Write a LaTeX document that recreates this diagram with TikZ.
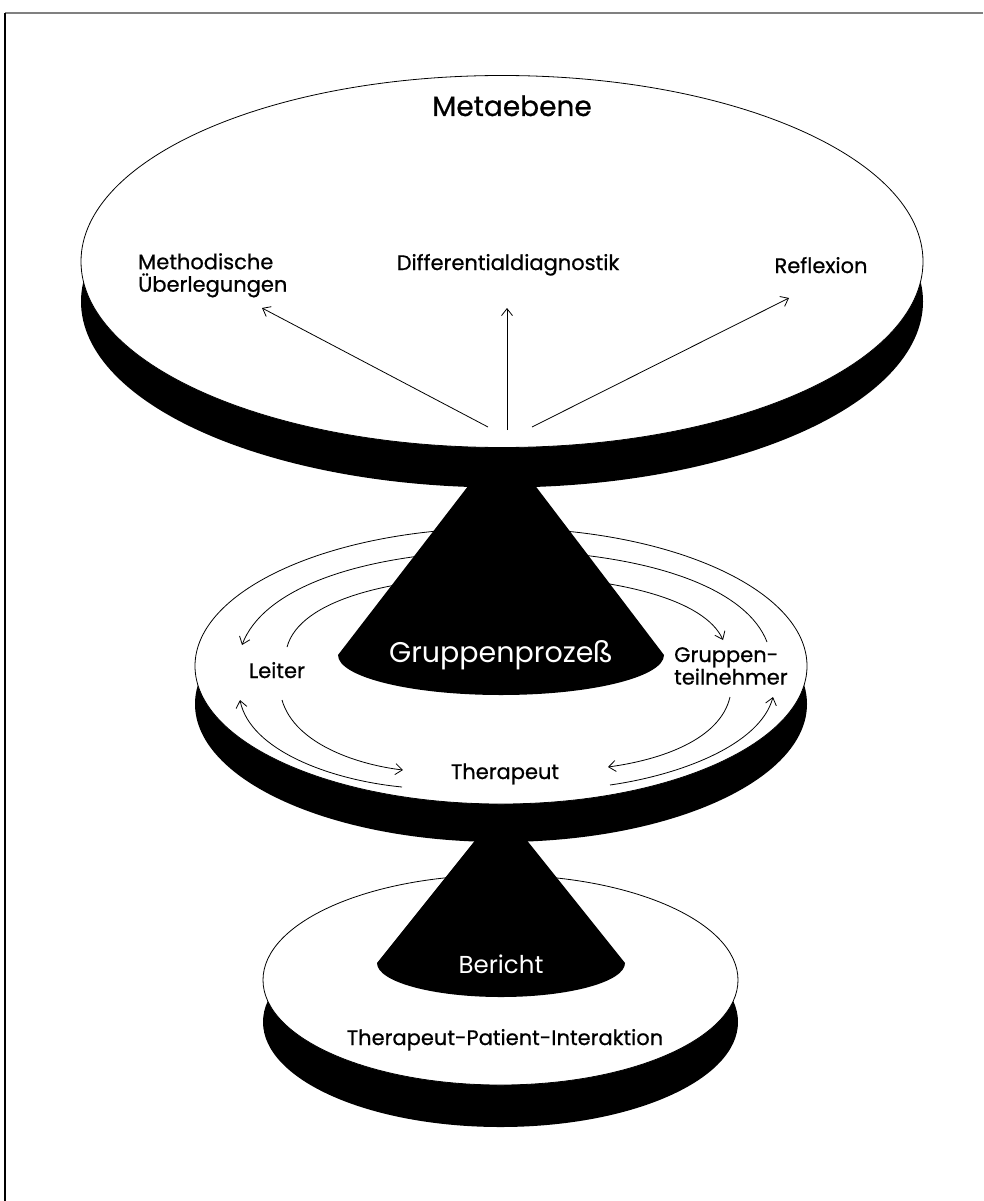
\documentclass[tikz,border=0pt]{standalone}
\usepackage{fontspec}
\setmainfont{Poppins}
\newfontfamily\medfont{Poppins}[FakeBold=0.7]
\usetikzlibrary{arrows.meta}

\begin{document}
\begin{tikzpicture}[x=1pt,y=-1pt,
    every node/.style={font=\medfont\fontsize{21}{22.5}\selectfont,inner sep=0pt},
    rim/.style={fill=black},
    disc/.style={draw=black,fill=white,line width=0.8pt},
    tip/.style={-{Straight Barb[length=7pt,width=11pt]},line width=0.8pt}]
  \useasboundingbox (0,0) rectangle (983,1201);
  \draw[gray,line width=2pt] (5,13) -- (983,13);
  \draw[line width=1.2pt] (5,13) -- (5,1201);

  \fill[rim] (500.5,1022) ellipse [x radius=237.5,y radius=105];
  \draw[disc] (500.5,980) ellipse [x radius=237.5,y radius=105];
  \fill (501,808) -- (625,963) arc [start angle=0,end angle=180,x radius=124,y radius=34] -- cycle;

  \fill[rim] (501,704) ellipse [x radius=306,y radius=138];
  \draw[disc] (501,666) ellipse [x radius=306,y radius=138];

  \node[anchor=base] (leiter) at (277,678) {Leiter};
  \node[anchor=north west,align=left] (teiln) at (674,647) {Gruppen-\\teilnehmer};
  \node[anchor=base] (ther) at (505,779) {Therapeut};

  \coordinate (lUp) at (242,645);
  \coordinate (lUpT) at (287,647);
  \coordinate (lLo) at (240,700);
  \coordinate (lLoT) at (282,700);
  \coordinate (gUp) at (723,640);
  \coordinate (gUpT) at (767,642);
  \coordinate (gLo) at (773,697);
  \coordinate (gLoT) at (730,697);
  \coordinate (tL) at (403,770);
  \coordinate (tLT) at (402,787);
  \coordinate (tR) at (608,767);
  \coordinate (tRT) at (610,785);

  \draw[tip] (gUpT) .. controls (748,592) and (660,553) .. (505,550)
    .. controls (350,553) and (262,592) .. (lUp);
  \draw[tip] (lUpT) .. controls (300,600) and (390,577) .. (505,575)
    .. controls (620,577) and (705,600) .. (gUp);
  \draw[tip] (lLoT) .. controls (295,745) and (360,765) .. (tL);
  \draw[tip] (tLT) .. controls (330,780) and (250,750) .. (lLo);
  \draw[tip] (gLoT) .. controls (720,740) and (660,760) .. (tR);
  \draw[tip] (tRT) .. controls (680,775) and (760,745) .. (gLo);

  \fill (502,442) -- (664,655) arc [start angle=0,end angle=180,x radius=163,y radius=40] -- cycle;

  \fill[rim] (502,301.5) ellipse [x radius=421,y radius=186];
  \draw[disc] (502,261.5) ellipse [x radius=421,y radius=186];

  \node[anchor=base,font=\medfont\fontsize{28}{31}\selectfont] (meta) at (512,116) {Metaebene};
  \node[anchor=north west,align=left] (meth) at (138,253) {Methodische\\Überlegungen};
  \node[anchor=base] (diff) at (508,270) {Differentialdiagnostik};
  \node[anchor=base] (refl) at (821,273) {Reflexion};

  \coordinate (hubL) at (488,427);
  \coordinate (hubM) at (507,430);
  \coordinate (hubR) at (532,427);
  \draw[tip] (hubL) -- (262,308);
  \draw[tip] (hubM) -- (507,308);
  \draw[tip] (hubR) -- (789,298);

  \node[anchor=base,text=white,font=\rmfamily\fontsize{28.5}{30}\selectfont] (prozess) at (501,662) {Gruppenprozeß};
  \node[anchor=base,text=white,font=\rmfamily\fontsize{24.5}{26}\selectfont] (bericht) at (501,973) {Bericht};
  \node[anchor=base] (tpi) at (505,1045) {Therapeut-Patient-Interaktion};
\end{tikzpicture}
\end{document}
